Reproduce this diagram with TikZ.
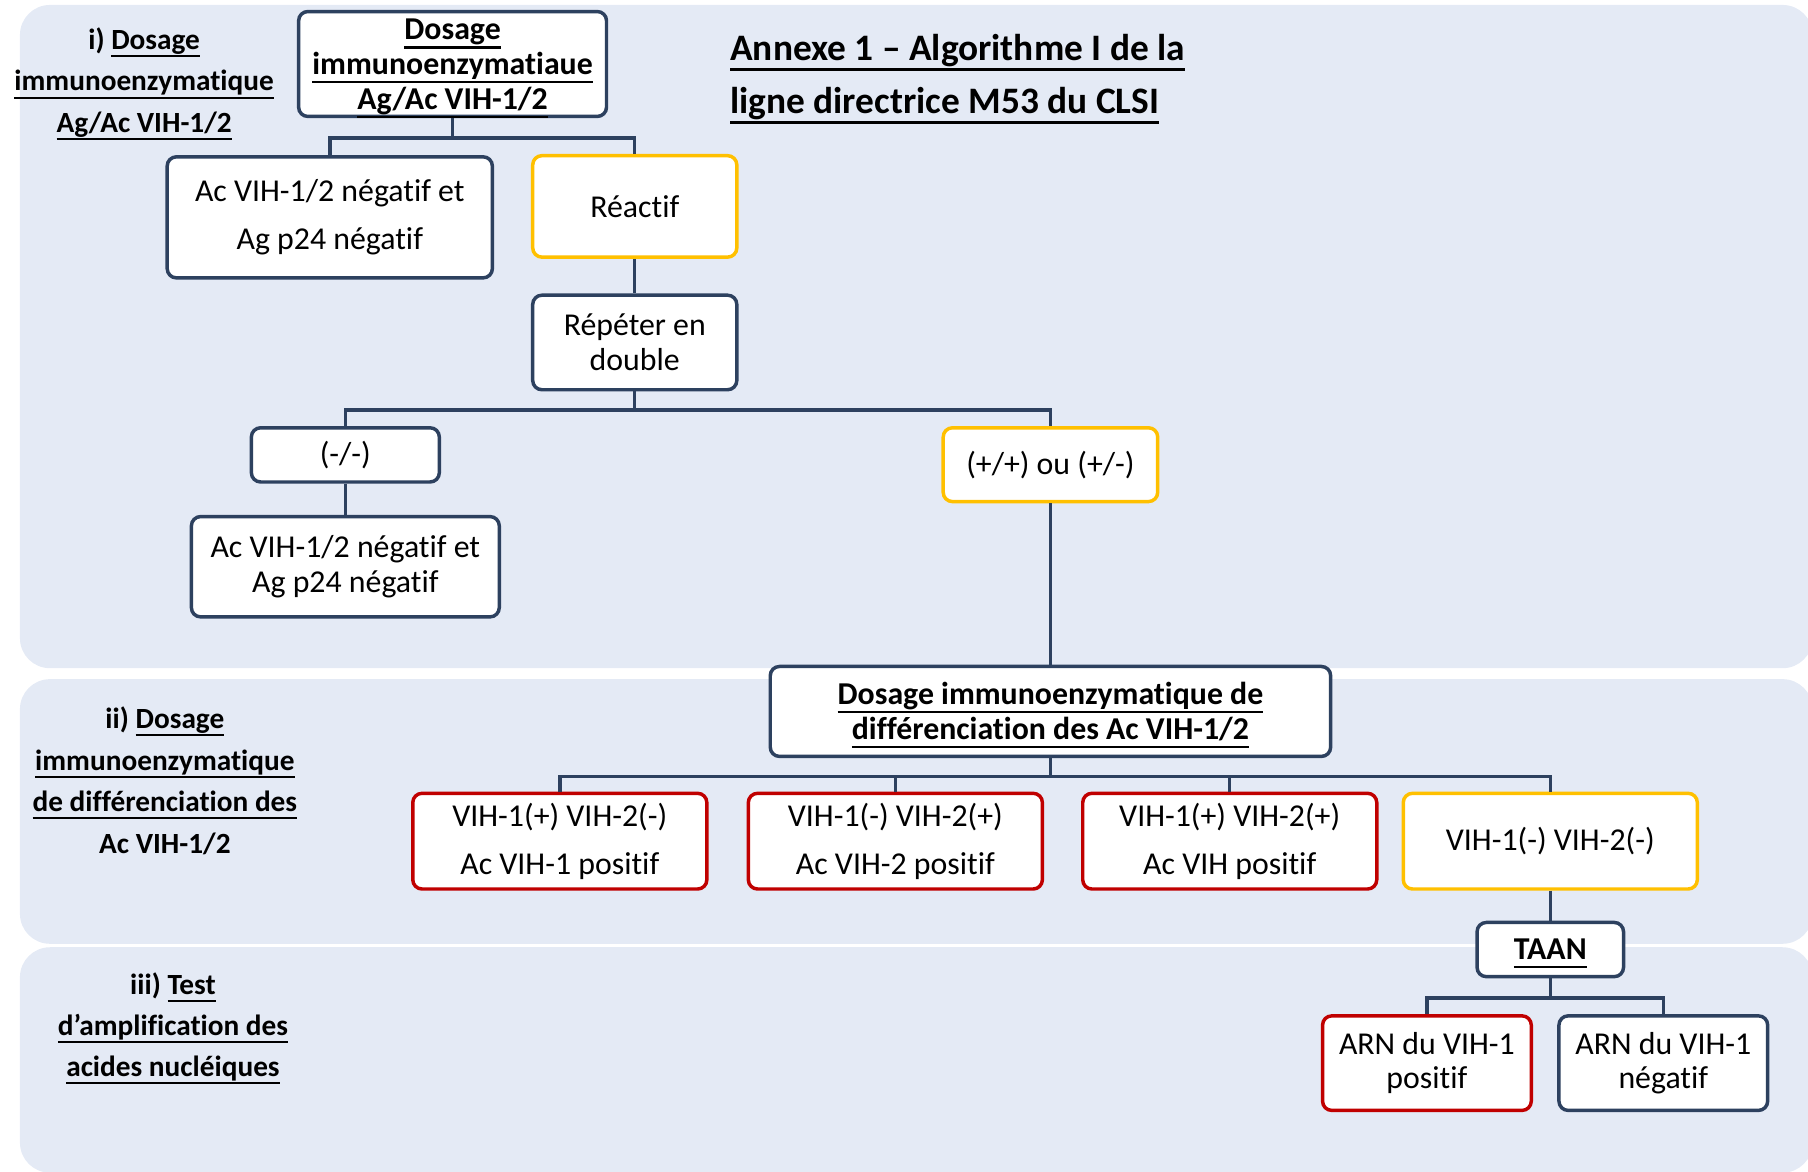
\documentclass[tikz,border=0pt]{standalone}
\usepackage{fontspec}
\setmainfont[Ligatures={NoCommon}]{Carlito}
\definecolor{panelc}{RGB}{228,234,245}
\definecolor{navy}{RGB}{45,65,95}
\definecolor{redc}{RGB}{192,0,0}
\definecolor{yelc}{RGB}{255,192,0}
\newcommand\myul[1]{\setbox0=\hbox{#1}\leavevmode\rlap{\smash{\rule[-0.27em]{\wd0}{0.07em}}}\box0}
\tikzset{
  nbox/.style={draw=navy, fill=white, line width=1.5pt, rounded corners=4pt, align=center, inner sep=0pt, font=\fontsize{13.8pt}{15pt}\selectfont},
  nboxw/.style={nbox, font=\fontsize{13.8pt}{21pt}\selectfont},
  redbox/.style={draw=redc},
  yelbox/.style={draw=yelc},
  bld/.style={font=\fontsize{13.8pt}{15pt}\selectfont\bfseries},
  conn/.style={draw=navy, line width=1.5pt},
  lab/.style={align=center, inner sep=0pt, font=\fontsize{12.7pt}{18pt}\selectfont\bfseries},
  ttl/.style={align=left, inner sep=0pt, font=\fontsize{16.2pt}{23pt}\selectfont\bfseries},
}
\begin{document}
\begin{tikzpicture}[x=0.5pt,y=-0.5pt]
\useasboundingbox (0,0) rectangle (1568,1016);
% panels
\fill[panelc, rounded corners=13pt] (17.3,4.3) rectangle (1572,579.5);
\fill[panelc, rounded corners=13pt] (17.3,589) rectangle (1572,818.5);
\fill[panelc, rounded corners=13pt] (17.3,821.5) rectangle (1572,1017);
% labels
\node[lab] (l1) at (125,71.5) {i) \myul{Dosage}\\\myul{immunoenzymatique}\\\myul{Ag/Ac VIH-1/2}};
\node[lab] (l2) at (143,677) {ii) \myul{Dosage}\\\myul{immunoenzymatique}\\\myul{de différenciation des}\\Ac VIH-1/2};
\node[lab, font=\fontsize{12.7pt}{17.75pt}\selectfont\bfseries] (l3) at (150,890.5) {iii) \myul{Test}\\\myul{d’amplification des}\\\myul{acides nucléiques}};
\node[ttl, anchor=west] (t) at (633,67) {\myul{Annexe 1 – Algorithme I de la}\\\myul{ligne directrice M53 du CLSI}};
% boxes
\node[nbox, bld, minimum width=133.5pt, minimum height=45.5pt] (b1) at (392.5,55.5) {\rule{0pt}{11.5pt}\myul{Dosage}\\\myul{immunoenzymatiaue}\\\myul{Ag/Ac VIH-1/2}};
\node[nboxw, minimum width=141pt, minimum height=52.5pt] (b2) at (286,188.5) {Ac VIH-1/2 négatif et\\Ag p24 négatif};
\node[nbox, yelbox, minimum width=88.5pt, minimum height=44pt] (b3) at (550.5,179) {Réactif};
\node[nbox, minimum width=88.5pt, minimum height=41pt] (b4) at (550.5,297) {Répéter en\\double};
\node[nbox, minimum width=81.5pt, minimum height=23.5pt] (b5) at (299.5,394.5) {(-/-)};
\node[nbox, yelbox, minimum width=93pt, minimum height=32pt] (b6) at (911,403) {(+/+) ou (+/-)};
\node[nbox, minimum width=133.5pt, minimum height=43.5pt] (b7) at (299.5,491.5) {Ac VIH-1/2 négatif et\\Ag p24 négatif};
\node[nbox, bld, minimum width=243pt, minimum height=39pt] (b8) at (911,617) {\myul{Dosage immunoenzymatique de}\\\myul{différenciation des Ac VIH-1/2}};
\node[nboxw, redbox, minimum width=127.5pt, minimum height=41.5pt] (b9) at (485.5,729.5) {VIH-1(+) VIH-2(-)\\Ac VIH-1 positif};
\node[nboxw, redbox, minimum width=127.5pt, minimum height=41.5pt] (b10) at (776.5,729.5) {VIH-1(-) VIH-2(+)\\Ac VIH-2 positif};
\node[nboxw, redbox, minimum width=127.5pt, minimum height=41.5pt] (b11) at (1066.5,729.5) {VIH-1(+) VIH-2(+)\\Ac VIH positif};
\node[nbox, yelbox, minimum width=127.5pt, minimum height=41.5pt] (b12) at (1344.5,729.5) {VIH-1(-) VIH-2(-)};
\node[nbox, bld, minimum width=63.5pt, minimum height=23.5pt] (b13) at (1344.5,823.5) {\myul{TAAN}};
\node[nbox, redbox, minimum width=90.5pt, minimum height=41pt] (b14) at (1237.5,922) {ARN du VIH-1\\positif};
\node[nbox, minimum width=90.5pt, minimum height=41pt] (b15) at (1442.5,922) {ARN du VIH-1\\négatif};
% connectors
\draw[conn] (b1.south) -- ++(0,17) coordinate (j1);
\draw[conn] (j1) -| (b2.north);
\draw[conn] (j1) -| (b3.north);
\draw[conn] (b3.south) -- (b4.north);
\draw[conn] (b4.south) -- ++(0,16) coordinate (j2);
\draw[conn] (j2) -| (b5.north);
\draw[conn] (j2) -| (b6.north);
\draw[conn] (b5.south) -- (b7.north);
\draw[conn] (b6.south) -- (b8.north);
\draw[conn] (b8.south) -- ++(0,16) coordinate (j3);
\draw[conn] (j3) -| (b9.north);
\draw[conn] (j3) -| (b10.north);
\draw[conn] (j3) -| (b11.north);
\draw[conn] (j3) -| (b12.north);
\draw[conn] (b12.south) -- (b13.north);
\draw[conn] (b13.south) -- ++(0,17) coordinate (j4);
\draw[conn] (j4) -| (b14.north);
\draw[conn] (j4) -| (b15.north);
\end{tikzpicture}
\end{document}
